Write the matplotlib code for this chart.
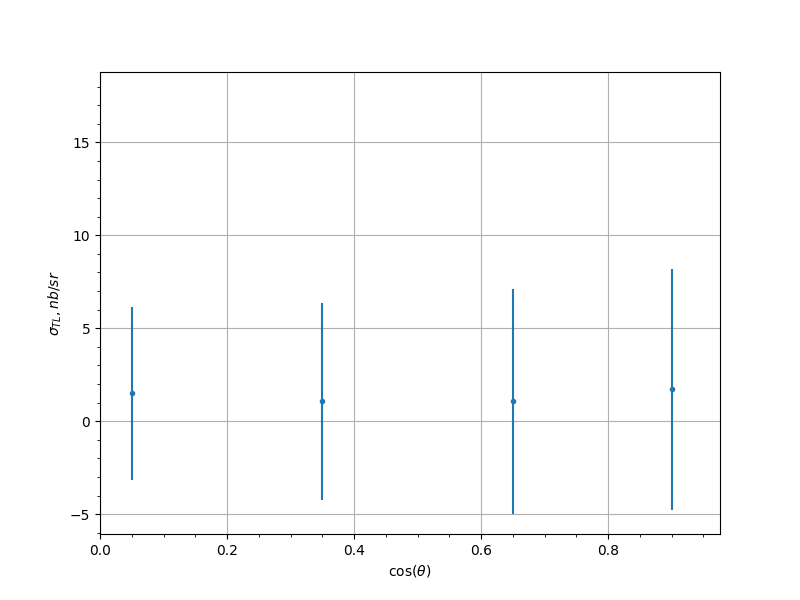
import numpy as np
import matplotlib
matplotlib.use("Agg")
import matplotlib.pyplot as plt

# cos(theta) bin centres and cross sections
cos_theta = [0.05, 0.35, 0.65, 0.90]
sigma_tl = [1.50, 1.08, 1.08, 1.72]
sigma_err = [4.65, 5.30, 6.05, 6.47]

fig, ax = plt.subplots(figsize=(8, 6), dpi=100)
ax.errorbar(cos_theta, sigma_tl, yerr=sigma_err, fmt='.')
ax.set_xlim(0, 0.976)
ax.set_ylim(-6.06, 18.78)
ax.minorticks_on()
ax.grid(which='major')
ax.set_xlabel(r'$\cos(\theta)$')
ax.set_ylabel(r'$\sigma_{TL}, nb/sr$')
plt.savefig('out.png')
